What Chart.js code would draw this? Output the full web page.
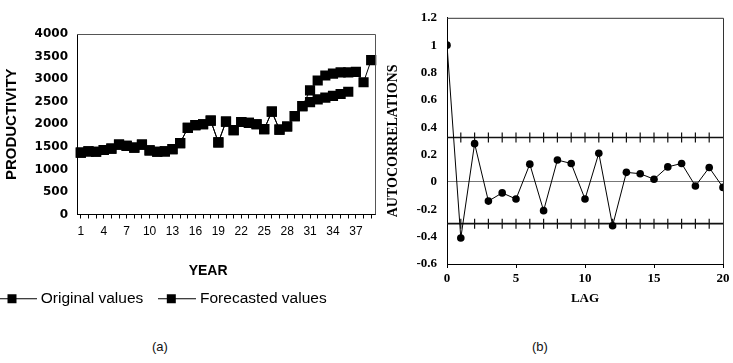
<!DOCTYPE html>
<html><head><meta charset="utf-8">
<script src="https://cdn.jsdelivr.net/npm/chart.js@4"></script>
<style>
html,body{margin:0;padding:0;background:#fff;width:733px;height:363px;overflow:hidden;}
#wa{position:absolute;left:-16px;top:0;width:401px;height:320px;}
#wb{position:absolute;left:380px;top:0;width:353px;height:320px;}
.cap{position:absolute;top:339px;font:13px "Liberation Sans",Arial,sans-serif;color:#111;}
</style></head><body>
<div id="wa"><canvas id="ca"></canvas></div>
<div id="wb"><canvas id="cb"></canvas></div>
<div class="cap" style="left:152px">(a)</div>
<div class="cap" style="left:532px">(b)</div>
<script>
// ---- Panel (a) data ----
const years = [1,2,3,4,5,6,7,8,9,10,11,12,13,14,15,16,17,18,19,20,21,22,23,24,25,26,27,28,29,30,31,32,33,34,35,36,37,38,39];
const originalValues = [1370,1400,1390,1430,1460,1550,1520,1480,1550,1420,1390,1400,1450,1580,1920,1980,2000,2080,1600,2060,1870,2050,2030,2000,1890,2280,1880,1950,2180,2400,2750,2970,3080,3120,3150,3150,3160,2930,3420];
const forecastedValues = [1370,1400,1390,1430,1460,1550,1520,1480,1550,1420,1390,1400,1450,1580,1920,1980,2000,2080,1600,2060,1870,2050,2030,2000,1890,2280,1880,1950,2180,2400,2490,2550,2590,2630,2670,2720,null,null,null];
const yearTickEvery = 3;

// ---- Panel (b) data ----
const lags = [0,1,2,3,4,5,6,7,8,9,10,11,12,13,14,15,16,17,18,19,20];
const autocorrelations = [1.0,-0.41,0.28,-0.14,-0.08,-0.125,0.13,-0.21,0.16,0.135,-0.125,0.21,-0.32,0.07,0.06,0.02,0.11,0.135,-0.03,0.105,-0.04];
const upperLimit = 0.325;
const lowerLimit = -0.305;

const sans = '"Liberation Sans", Arial, sans-serif';
const wide = '"DejaVu Sans", Verdana, sans-serif';
const serif = '"Liberation Serif", "Times New Roman", serif';

const frame = (color) => ({
  id: 'frame',
  afterDatasetsDraw(chart) {
    const {ctx, chartArea: a} = chart;
    ctx.save();
    ctx.strokeStyle = color; ctx.lineWidth = 1;
    ctx.beginPath();
    ctx.moveTo(a.left, a.top + 0.5); ctx.lineTo(a.right + 0.5, a.top + 0.5);
    ctx.lineTo(a.right + 0.5, a.bottom);
    ctx.stroke();
    ctx.restore();
  }
});

// x-axis title of panel (a), set a little left of the plot centre as in the original
const yearTitle = {
  id: 'yearTitle',
  afterDraw(chart) {
    const {ctx, chartArea: a} = chart;
    ctx.save();
    ctx.fillStyle = '#000';
    ctx.font = 'bold 14px ' + sans;
    ctx.textAlign = 'center'; ctx.textBaseline = 'middle';
    ctx.fillText('YEAR', a.left + (a.right - a.left) * 0.44, a.bottom + 57);
    ctx.restore();
  }
};

// legend icon: line with square marker
const icon = document.createElement('canvas');
icon.width = 38; icon.height = 12;
(() => {
  const g = icon.getContext('2d');
  g.strokeStyle = '#000'; g.lineWidth = 1;
  g.beginPath(); g.moveTo(0, 6.5); g.lineTo(38, 6.5); g.stroke();
  g.fillStyle = '#000'; g.fillRect(9, 2, 9, 9);
})();

const seriesStyle = {
  borderColor: '#000', backgroundColor: '#000', borderWidth: 1,
  pointStyle: 'rect', pointRadius: 7.2, pointBackgroundColor: '#000',
  pointBorderColor: '#000', pointBorderWidth: 0, tension: 0, spanGaps: false
};

new Chart(document.getElementById('ca'), {
  type: 'line',
  data: {
    labels: years,
    datasets: [
      Object.assign({label: 'Original values', data: originalValues}, seriesStyle),
      Object.assign({label: 'Forecasted values', data: forecastedValues}, seriesStyle)
    ]
  },
  options: {
    responsive: true, maintainAspectRatio: false, animation: false, devicePixelRatio: 1,
    layout: {padding: {top: 34, right: 10, left: 0, bottom: 4}},
    plugins: {
      tooltip: {enabled: false},
      legend: {
        position: 'bottom', align: 'start',
        labels: {
          usePointStyle: true, pointStyle: icon, pointStyleWidth: 31, boxHeight: 12,
          padding: 18, color: '#000', font: {family: sans, size: 15.5}
        }
      }
    },
    scales: {
      x: {
        offset: true,
        afterFit: s => { s.height = 58; },
        grid: {display: true, drawOnChartArea: false, tickLength: 4, color: '#000'},
        border: {display: true, color: '#000', width: 1},
        ticks: {
          autoSkip: false, maxRotation: 0, padding: 6, color: '#000',
          font: {family: sans, size: 12},
          callback: function(v, i) { return i % yearTickEvery === 0 ? this.getLabelForValue(v) : ''; }
        },
        title: {display: false}
      },
      y: {
        min: 0, max: 4000,
        afterFit: s => { s.width = 93; },
        grid: {display: false, drawTicks: false},
        border: {display: true, color: '#000', width: 1},
        ticks: {stepSize: 500, padding: 9, color: '#000', font: {family: wide, size: 12, weight: 'bold'},
                callback: v => String(v)},
        title: {display: true, text: 'PRODUCTIVITY', color: '#000', font: {family: sans, size: 15, weight: 'bold'}, padding: {top: 19, bottom: 0}}
      }
    }
  },
  plugins: [frame('#555'), yearTitle]
});

new Chart(document.getElementById('cb'), {
  type: 'line',
  data: {
    datasets: [
      {
        label: 'ACF', data: lags.map((l, i) => ({x: l, y: autocorrelations[i]})),
        borderColor: '#000', borderWidth: 1, pointRadius: 3.8, pointBackgroundColor: '#000',
        pointBorderColor: '#000', pointBorderWidth: 0, tension: 0
      },
      {
        label: 'upper', data: lags.map(l => ({x: l, y: upperLimit})),
        borderColor: '#111', borderWidth: 1.6, pointStyle: 'line', rotation: 90,
        pointRadius: lags.map(l => (l === 0 || l === lags[lags.length - 1]) ? 0 : 5),
        pointBorderColor: '#111', pointBorderWidth: 1.2, clip: false
      },
      {
        label: 'lower', data: lags.map(l => ({x: l, y: lowerLimit})),
        borderColor: '#111', borderWidth: 1.6, pointStyle: 'line', rotation: 90,
        pointRadius: lags.map(l => (l === 0 || l === lags[lags.length - 1]) ? 0 : 5),
        pointBorderColor: '#111', pointBorderWidth: 1.2, clip: false
      }
    ]
  },
  options: {
    responsive: true, maintainAspectRatio: false, animation: false, devicePixelRatio: 1,
    layout: {padding: {top: 14, right: 10, left: 0, bottom: 12}},
    plugins: {legend: {display: false}, tooltip: {enabled: false}},
    scales: {
      x: {
        type: 'linear', min: 0, max: 20,
        afterFit: s => { s.height = 44; },
        grid: {display: true, drawOnChartArea: false, tickLength: 4, color: '#000'},
        border: {display: true, color: '#000', width: 1},
        ticks: {stepSize: 5, padding: 3, color: '#000', font: {family: serif, size: 13, weight: 'bold'}},
        title: {display: true, text: 'LAG', color: '#000', font: {family: serif, size: 13, weight: 'bold'}, padding: {top: 0, bottom: 2}}
      },
      y: {
        min: -0.6, max: 1.2,
        afterFit: s => { s.width = 67; },
        grid: {
          display: true, drawTicks: false,
          color: c => Math.abs(c.tick.value) < 1e-9 ? '#777' : 'rgba(0,0,0,0)'
        },
        border: {display: true, color: '#000', width: 1},
        ticks: {
          stepSize: 0.2, padding: 10, color: '#000', font: {family: serif, size: 13, weight: 'bold'},
          callback: v => String(Number(v.toFixed(1)))
        },
        title: {display: true, text: 'AUTOCORRELATIONS', color: '#000', font: {family: serif, size: 14, weight: 'bold'}, padding: {top: 5, bottom: 0}}
      }
    }
  },
  plugins: [frame('#333')]
});
</script>
</body></html>
